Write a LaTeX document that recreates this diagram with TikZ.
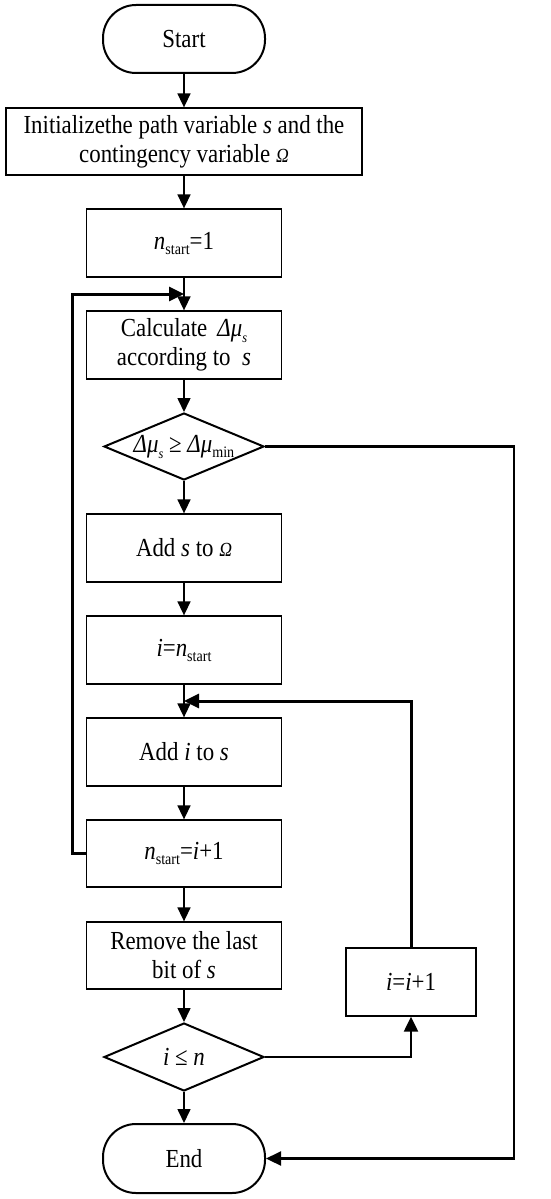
\documentclass[tikz,border=0pt]{standalone}
\usepackage{fontspec}
\setmainfont{Liberation Serif}[FakeStretch=0.88]
\usetikzlibrary{arrows.meta,shapes.geometric}
\newcommand\sbx[1]{\raisebox{-5pt}{\fontsize{16}{16}\selectfont #1}}
\newcommand\sbsm[1]{\raisebox{-6pt}{\fontsize{14}{14}\selectfont\itshape #1}}
\begin{document}
\begin{tikzpicture}[x=1pt,y=-1pt,
  every node/.style={font=\fontsize{26}{29}\selectfont},
  proc/.style={draw,line width=1.3pt,rectangle,minimum width=195pt,minimum height=68pt,inner sep=0pt,align=center},
  term/.style={draw,line width=2pt,rectangle,rounded corners=33pt,minimum width=162pt,minimum height=68pt,inner sep=0pt},
  dec/.style={draw,line width=2pt,diamond,minimum width=160pt,minimum height=67pt,inner sep=0pt},
  arr/.style={line width=1.6pt,-{Triangle[length=14pt,width=13pt]}},
  loop/.style={line width=3pt,-{Triangle[length=15pt,width=14pt]}},
  side/.style={line width=2.2pt,-{Triangle[length=15pt,width=14pt]}}]
\useasboundingbox (0,0) rectangle (550,1199);
\node[term] (start) at (184,39) {Start};
\node[proc,minimum width=356pt,minimum height=67pt] (init) at (184,141.5) {Initializethe path variable \textit{s} and the\\contingency variable {\fontsize{20}{20}\selectfont\textit{Ω}}};
\node[proc] (n1) at (184,243) {\textit{n}\sbx{start}=1};
\node[proc] (calc) at (184,345) {Calculate \,\textit{Δμ}\sbsm{s}\\according to \ \textit{s}};
\node[dec] (d1) at (184,446.5) {};
\node at (d1) {\textit{Δμ}\sbsm{s} ≥ \textit{Δμ}\sbx{min}};
\node[proc] (adds) at (184,548) {Add \textit{s} to {\fontsize{20}{20}\selectfont\textit{Ω}}};
\node[proc] (ins) at (184,650) {\textit{i}=\textit{n}\sbx{start}};
\node[proc] (addi) at (184,752) {Add \textit{i} to \textit{s}};
\node[proc,minimum height=67pt] (nsi) at (184,853.5) {\textit{n}\sbx{start}=\textit{i}+1};
\node[proc,minimum height=67pt] (rem) at (184,955.5) {Remove the last\\bit of \textit{s}};
\node[dec,minimum height=68pt] (d2) at (184,1057) {};
\node at (d2) {\textit{i} ≤ \textit{n}};
\node[term,minimum height=69pt] (end) at (184,1158.5) {End};
\node[proc,minimum width=130pt] (ii) at (411,982) {\textit{i}=\textit{i}+1};
\coordinate (j1) at (184,294);
\coordinate (j2) at (184,701);
\draw[arr] (start) -- (init);
\draw[arr] (init) -- (n1);
\draw[arr] (n1) -- (calc);
\draw[arr] (calc) -- (d1);
\draw[arr] (d1) -- (adds);
\draw[arr] (adds) -- (ins);
\draw[arr] (ins) -- (addi);
\draw[arr] (addi) -- (nsi);
\draw[arr] (nsi) -- (rem);
\draw[arr] (rem) -- (d2);
\draw[arr] (d2) -- (end);
\draw[loop] (nsi.west) -- (72,853.5) -- (72,294) -- (j1);
\draw[loop] (ii.north) -- (411,701) -- (j2);
\draw[side] (d1.east) -- (514,446.5) -- (514,1158.5) -- (end.east);
\draw[side] (d2.east) -- (411,1057) -- (ii.south);
\end{tikzpicture}
\end{document}
